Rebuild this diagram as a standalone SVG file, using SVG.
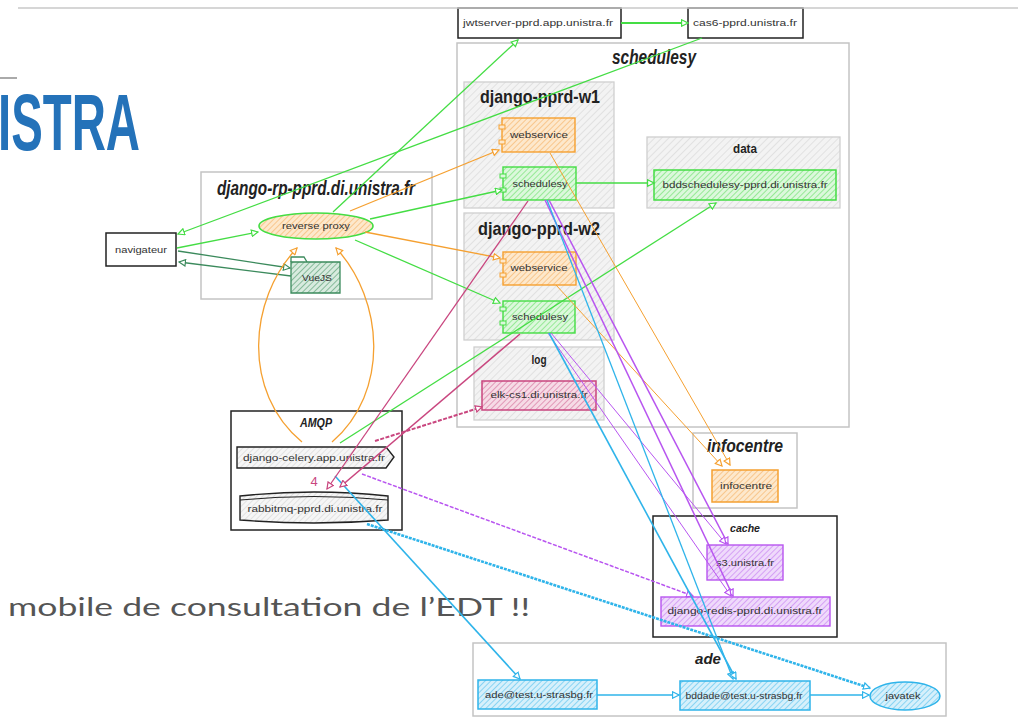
<svg xmlns="http://www.w3.org/2000/svg" width="1018" height="720" viewBox="0 0 1018 720">
<style>
.lbl{font-family:"Liberation Sans Narrow","Liberation Sans",sans-serif;font-size:9px;fill:#333;text-anchor:middle}
.ttl{font-family:"Liberation Sans Narrow","Liberation Sans",sans-serif;font-weight:bold;font-style:italic;fill:#222;text-anchor:middle}
.up{font-style:normal}
.cont{fill:#fff;stroke:#c4c4c4;stroke-width:1.5}
.gcont{fill:url(#hGrey);stroke:#cfcfcf;stroke-width:1.3}
.blk{fill:#fff;stroke:#222;stroke-width:1.5}
.c{fill:none}
.green{stroke:#44dd44}
.dg{stroke:#3b8a5c}
.or{stroke:#f5a030}
.pu{stroke:#b855f0}
.bl{stroke:#2fb4ea}
.pk{stroke:#c9467f}
</style>
<defs>
<pattern id="hGrey" patternUnits="userSpaceOnUse" width="5" height="5" patternTransform="rotate(45)"><rect width="5" height="5" fill="#f3f3f3"/><line x1="0" y1="0" x2="0" y2="5" stroke="#d6d6d6" stroke-width="1.2"/></pattern>
<pattern id="hOr" patternUnits="userSpaceOnUse" width="4" height="4" patternTransform="rotate(45)"><rect width="4" height="4" fill="#fde8cc"/><line x1="0" y1="0" x2="0" y2="4" stroke="#f5b060" stroke-width="1.2"/></pattern>
<pattern id="hGr" patternUnits="userSpaceOnUse" width="4" height="4" patternTransform="rotate(45)"><rect width="4" height="4" fill="#dcf8dc"/><line x1="0" y1="0" x2="0" y2="4" stroke="#66e066" stroke-width="1.2"/></pattern>
<pattern id="hDg" patternUnits="userSpaceOnUse" width="4" height="4" patternTransform="rotate(45)"><rect width="4" height="4" fill="#d8ebdf"/><line x1="0" y1="0" x2="0" y2="4" stroke="#4f9a6c" stroke-width="1.2"/></pattern>
<pattern id="hPk" patternUnits="userSpaceOnUse" width="4" height="4" patternTransform="rotate(45)"><rect width="4" height="4" fill="#f6dbe6"/><line x1="0" y1="0" x2="0" y2="4" stroke="#d46a98" stroke-width="1.2"/></pattern>
<pattern id="hPu" patternUnits="userSpaceOnUse" width="4" height="4" patternTransform="rotate(45)"><rect width="4" height="4" fill="#efdafb"/><line x1="0" y1="0" x2="0" y2="4" stroke="#c47af2" stroke-width="1.2"/></pattern>
<pattern id="hBl" patternUnits="userSpaceOnUse" width="4" height="4" patternTransform="rotate(45)"><rect width="4" height="4" fill="#d6f0fb"/><line x1="0" y1="0" x2="0" y2="4" stroke="#55c2ee" stroke-width="1.2"/></pattern>
<pattern id="hLg" patternUnits="userSpaceOnUse" width="4" height="4" patternTransform="rotate(45)"><rect width="4" height="4" fill="#f6f6f6"/><line x1="0" y1="0" x2="0" y2="4" stroke="#cfcfcf" stroke-width="1"/></pattern>
<marker id="aG" viewBox="0 0 10 10" refX="9" refY="5" markerWidth="8" markerHeight="8" markerUnits="userSpaceOnUse" orient="auto"><path d="M1,1 L9,5 L1,9 Z" fill="#fff" stroke="#44dd44" stroke-width="1.5"/></marker>
<marker id="aD" viewBox="0 0 10 10" refX="9" refY="5" markerWidth="8" markerHeight="8" markerUnits="userSpaceOnUse" orient="auto"><path d="M1,1 L9,5 L1,9 Z" fill="#fff" stroke="#3b8a5c" stroke-width="1.5"/></marker>
<marker id="aO" viewBox="0 0 10 10" refX="9" refY="5" markerWidth="8" markerHeight="8" markerUnits="userSpaceOnUse" orient="auto"><path d="M1,1 L9,5 L1,9 Z" fill="#fff" stroke="#f5a030" stroke-width="1.5"/></marker>
<marker id="aP" viewBox="0 0 10 10" refX="9" refY="5" markerWidth="8" markerHeight="8" markerUnits="userSpaceOnUse" orient="auto"><path d="M1,1 L9,5 L1,9 Z" fill="#fff" stroke="#b855f0" stroke-width="1.5"/></marker>
<marker id="aB" viewBox="0 0 10 10" refX="9" refY="5" markerWidth="8" markerHeight="8" markerUnits="userSpaceOnUse" orient="auto"><path d="M1,1 L9,5 L1,9 Z" fill="#fff" stroke="#2fb4ea" stroke-width="1.5"/></marker>
<marker id="aK" viewBox="0 0 10 10" refX="9" refY="5" markerWidth="8" markerHeight="8" markerUnits="userSpaceOnUse" orient="auto"><path d="M1,1 L9,5 L1,9 Z" fill="#fff" stroke="#c9467f" stroke-width="1.5"/></marker>
</defs>
<rect width="1018" height="720" fill="#fff"/>

<!-- slide decoration -->
<g id="slide">
<line x1="0" y1="78" x2="17" y2="78" stroke="#aaa" stroke-width="2"/>
<text x="-2" y="150" font-family="Liberation Sans Narrow,Liberation Sans,sans-serif" font-weight="bold" font-size="80" fill="#2472b9" textLength="142" lengthAdjust="spacingAndGlyphs">ISTRA</text>
<text x="8" y="616" font-family="Lato,Open Sans,sans-serif" font-size="25" fill="#555" textLength="522" lengthAdjust="spacingAndGlyphs">mobile de consultation de l’EDT !!</text>
</g>

<!-- containers -->
<g id="schedulesy-container"><rect class="cont" x="457" y="43" width="392" height="384"/><text class="ttl" x="654" y="64" font-size="20" textLength="84" lengthAdjust="spacingAndGlyphs">schedulesy</text></g>
<g id="django-pprd-w1"><rect class="gcont" x="464" y="82" width="150" height="126"/><text class="ttl up" x="540" y="103" font-size="19" textLength="120" lengthAdjust="spacingAndGlyphs">django-pprd-w1</text></g>
<g id="django-pprd-w2"><rect class="gcont" x="464" y="213" width="150" height="127"/><text class="ttl up" x="539" y="235" font-size="19" textLength="122" lengthAdjust="spacingAndGlyphs">django-pprd-w2</text></g>
<g id="data"><rect class="gcont" x="647" y="137" width="193" height="71"/><text class="ttl up" x="745" y="153" font-size="12" textLength="24" lengthAdjust="spacingAndGlyphs">data</text></g>
<g id="log"><rect class="gcont" x="474" y="347" width="130" height="73"/><text class="ttl up" x="539" y="364" font-size="12" textLength="15" lengthAdjust="spacingAndGlyphs">log</text></g>
<g id="django-rp-container"><rect class="cont" x="201" y="172" width="231" height="127"/><text class="ttl" x="316" y="195" font-size="20" textLength="198" lengthAdjust="spacingAndGlyphs">django-rp-pprd.di.unistra.fr</text></g>
<g id="infocentre-container"><rect class="cont" x="693" y="433" width="104" height="75"/><text class="ttl" x="745" y="452" font-size="18" textLength="76" lengthAdjust="spacingAndGlyphs">infocentre</text></g>
<g id="cache-container"><rect class="blk" x="653" y="516" width="184" height="121"/><text class="ttl" x="745" y="532" font-size="11" textLength="30" lengthAdjust="spacingAndGlyphs">cache</text></g>
<g id="ade-container"><rect class="cont" x="473" y="643" width="473" height="73"/><text class="ttl" x="708" y="664" font-size="15" textLength="26" lengthAdjust="spacingAndGlyphs">ade</text></g>
<g id="amqp-container"><rect class="blk" x="231" y="411" width="171" height="119"/><text class="ttl" x="316" y="427" font-size="12" textLength="32" lengthAdjust="spacingAndGlyphs">AMQP</text></g>

<!-- nodes -->
<g id="jwtserver"><rect class="blk" x="458" y="8" width="163" height="30"/><text class="lbl" x="538" y="26" textLength="150" lengthAdjust="spacingAndGlyphs">jwtserver-pprd.app.unistra.fr</text></g>
<g id="cas6"><rect class="blk" x="688" y="8" width="115" height="30"/><text class="lbl" x="745" y="26" textLength="104" lengthAdjust="spacingAndGlyphs">cas6-pprd.unistra.fr</text></g>
<g id="navigateur"><rect class="blk" x="106" y="233" width="70" height="33"/><text class="lbl" x="141" y="253" textLength="52" lengthAdjust="spacingAndGlyphs">navigateur</text></g>
<g id="reverse-proxy"><ellipse cx="316" cy="226" rx="57" ry="13" fill="url(#hOr)" stroke="#44dd44" stroke-width="1.6"/><text class="lbl" x="316" y="229" textLength="68" lengthAdjust="spacingAndGlyphs">reverse proxy</text></g>
<g id="vuejs"><path d="M291,262 L291,293 L340,293 L340,262 Z" fill="url(#hDg)" stroke="#3b8a5c" stroke-width="1.3"/><path d="M291,262 L291,257 L304,257 L307,262" fill="none" stroke="#3b8a5c" stroke-width="1.3"/><text class="lbl" x="317" y="281" textLength="30" lengthAdjust="spacingAndGlyphs">VueJS</text></g>
<g id="webservice-w1"><rect x="502" y="118" width="73" height="34" fill="url(#hOr)" stroke="#f5a030" stroke-width="1.4"/><rect x="499" y="125" width="6" height="4" fill="#fde8cc" stroke="#f5a030"/><rect x="499" y="140" width="6" height="4" fill="#fde8cc" stroke="#f5a030"/><text class="lbl" x="539" y="138" textLength="58" lengthAdjust="spacingAndGlyphs">webservice</text></g>
<g id="schedulesy-w1"><rect x="503" y="167" width="73" height="33" fill="url(#hGr)" stroke="#44dd44" stroke-width="1.4"/><rect x="500" y="174" width="6" height="4" fill="#dcf8dc" stroke="#44dd44"/><rect x="500" y="188" width="6" height="4" fill="#dcf8dc" stroke="#44dd44"/><text class="lbl" x="540" y="187" textLength="55" lengthAdjust="spacingAndGlyphs">schedulesy</text></g>
<g id="bddschedulesy"><rect x="654" y="170" width="182" height="30" fill="url(#hGr)" stroke="#44dd44" stroke-width="1.5"/><text class="lbl" x="745" y="188" textLength="165" lengthAdjust="spacingAndGlyphs">bddschedulesy-pprd.di.unistra.fr</text></g>
<g id="webservice-w2"><rect x="503" y="252" width="73" height="33" fill="url(#hOr)" stroke="#f5a030" stroke-width="1.4"/><rect x="500" y="259" width="6" height="4" fill="#fde8cc" stroke="#f5a030"/><rect x="500" y="273" width="6" height="4" fill="#fde8cc" stroke="#f5a030"/><text class="lbl" x="539" y="271" textLength="57" lengthAdjust="spacingAndGlyphs">webservice</text></g>
<g id="schedulesy-w2"><rect x="503" y="301" width="72" height="32" fill="url(#hGr)" stroke="#44dd44" stroke-width="1.4"/><rect x="500" y="307" width="6" height="4" fill="#dcf8dc" stroke="#44dd44"/><rect x="500" y="321" width="6" height="4" fill="#dcf8dc" stroke="#44dd44"/><text class="lbl" x="540" y="320" textLength="56" lengthAdjust="spacingAndGlyphs">schedulesy</text></g>
<g id="elk"><rect x="482" y="381" width="114" height="29" fill="url(#hPk)" stroke="#c9467f" stroke-width="1.5"/><text class="lbl" x="539" y="398" textLength="97" lengthAdjust="spacingAndGlyphs">elk-cs1.di.unistra.fr</text></g>
<g id="infocentre"><rect x="712" y="470" width="66" height="32" fill="url(#hOr)" stroke="#f5a030" stroke-width="1.5"/><text class="lbl" x="746" y="489" textLength="52" lengthAdjust="spacingAndGlyphs">infocentre</text></g>
<g id="s3"><rect x="707" y="545" width="76" height="35" fill="url(#hPu)" stroke="#b855f0" stroke-width="1.4"/><text class="lbl" x="745" y="566" textLength="58" lengthAdjust="spacingAndGlyphs">s3.unistra.fr</text></g>
<g id="django-redis"><rect x="661" y="597" width="169" height="29" fill="url(#hPu)" stroke="#b855f0" stroke-width="1.4"/><text class="lbl" x="745" y="614" textLength="155" lengthAdjust="spacingAndGlyphs">django-redis-pprd.di.unistra.fr</text></g>
<g id="ade-test"><rect x="478" y="680" width="119" height="29" fill="url(#hBl)" stroke="#2fb4ea" stroke-width="1.5"/><text class="lbl" x="539" y="698" textLength="108" lengthAdjust="spacingAndGlyphs">ade@test.u-strasbg.fr</text></g>
<g id="bddade-test"><rect x="680" y="681" width="130" height="29" fill="url(#hBl)" stroke="#2fb4ea" stroke-width="1.5"/><text class="lbl" x="744" y="699" textLength="117" lengthAdjust="spacingAndGlyphs">bddade@test.u-strasbg.fr</text></g>
<g id="javatek"><ellipse cx="905" cy="696" rx="35" ry="14" fill="url(#hBl)" stroke="#2fb4ea" stroke-width="1.5"/><text class="lbl" x="903" y="699" textLength="35" lengthAdjust="spacingAndGlyphs">javatek</text></g>
<g id="django-celery"><path d="M237,447 L386,447 L394,457 L386,468 L237,468 Z" fill="url(#hLg)" stroke="#222" stroke-width="1.4"/><text class="lbl" x="314" y="461" textLength="142" lengthAdjust="spacingAndGlyphs">django-celery.app.unistra.fr</text></g>
<g id="rabbitmq"><path d="M240,496 Q314,488 388,496 L388,520 Q314,526 240,520 Z" fill="url(#hLg)" stroke="#222" stroke-width="1.4"/><path d="M240,500 Q314,493 388,500" fill="none" stroke="#222" stroke-width="1"/><text class="lbl" x="315" y="512" textLength="135" lengthAdjust="spacingAndGlyphs">rabbitmq-pprd.di.unistra.fr</text></g>

<!-- connectors -->
<g id="connectors" stroke-width="1.3">
<path class="c green" d="M333,212 L518,40" marker-end="url(#aG)"/>
<path class="c green" d="M621,23 L688,23" stroke-width="1.8" marker-end="url(#aG)"/>
<path class="c green" d="M702,38 L178,234" marker-end="url(#aG)"/>
<path class="c green" d="M177,248 L258,232" marker-end="url(#aG)"/>
<path class="c green" d="M370,219 L502,190" marker-end="url(#aG)"/>
<path class="c green" d="M355,240 L500,303" marker-end="url(#aG)"/>
<path class="c green" d="M576,183 L654,183" stroke-width="1.6" marker-end="url(#aG)"/>
<path class="c green" d="M340,443 L716,203" marker-end="url(#aG)"/>
<path class="c dg" d="M178,251 L290,268" marker-end="url(#aD)"/>
<path class="c dg" d="M291,276 L179,262" marker-end="url(#aD)"/>
<path class="c or" d="M350,211 L499,150" marker-end="url(#aO)"/>
<path class="c or" d="M365,232 L500,258" marker-end="url(#aO)"/>
<path class="c or" d="M302,442 C242,392 248,300 297,248" marker-end="url(#aO)"/>
<path class="c or" d="M332,442 C390,392 384,300 336,248" marker-end="url(#aO)"/>
<path class="c or" d="M550,153 L730,465" stroke-width="1" marker-end="url(#aO)"/>
<path class="c or" d="M556,285 L722,466" stroke-width="1" marker-end="url(#aO)"/>
<path class="c pu" d="M549,200 L728,544" stroke-width="1.5" marker-end="url(#aP)"/>
<path class="c pu" d="M545,200 L733,596" stroke-width="1.5" marker-end="url(#aP)"/>
<path class="c pu" d="M551,333 L726,544" stroke-width="1" marker-end="url(#aP)"/>
<path class="c pu" d="M548,333 L731,596" stroke-width="1" marker-end="url(#aP)"/>
<path class="c pu" d="M362,474 L693,596" stroke-width="1.5" stroke-dasharray="4,1.5" marker-end="url(#aP)"/>
<path class="c bl" d="M547,200 L733,679" marker-end="url(#aB)"/>
<path class="c bl" d="M549,333 L736,679" stroke-width="1.6" marker-end="url(#aB)"/>
<path class="c bl" d="M335,476 L520,679" stroke-width="1.6" marker-end="url(#aB)"/>
<path class="c bl" d="M367,524 L870,688" stroke-width="2.6" stroke-dasharray="3,1" marker-end="url(#aB)"/>
<path class="c bl" d="M597,695 L679,695" marker-end="url(#aB)"/>
<path class="c bl" d="M810,695 L869,695" marker-end="url(#aB)"/>
<path class="c pk" d="M528,201 L327,489" marker-end="url(#aK)"/>
<path class="c pk" d="M520,334 L340,487" stroke-width="1.6" marker-end="url(#aK)"/>
<path class="c pk" d="M375,441 L482,407" stroke-width="2" stroke-dasharray="4,1.5" marker-end="url(#aK)"/>
<text x="314" y="486" font-family="Liberation Sans Narrow,Liberation Sans,sans-serif" font-size="13" fill="#c9467f" text-anchor="middle" stroke="none">4</text>
</g>

<line x1="18" y1="8" x2="1018" y2="8" stroke="#c8c8c8" stroke-width="1.5"/>
</svg>
